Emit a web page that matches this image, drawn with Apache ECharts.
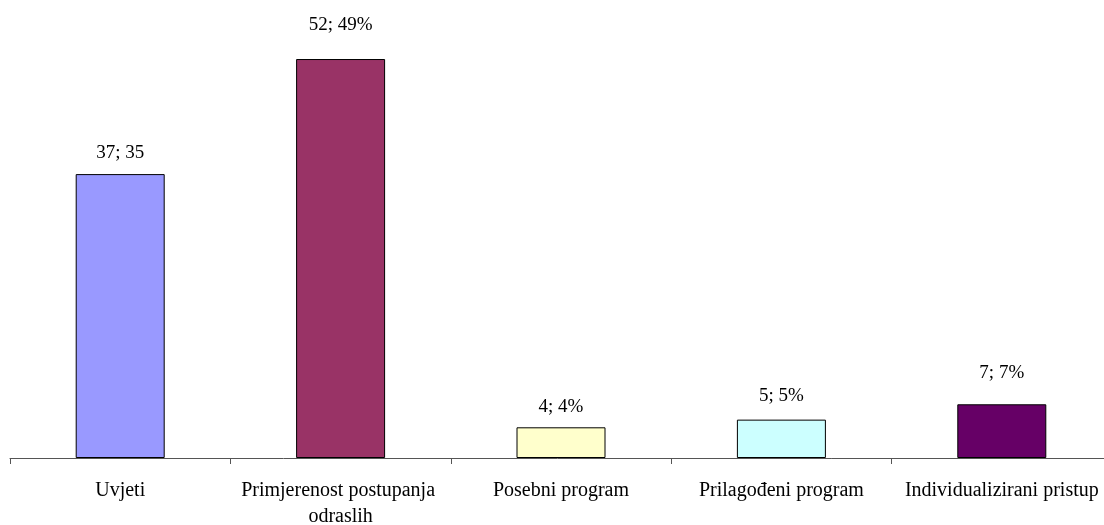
<!DOCTYPE html>
<html><head><meta charset="utf-8">
<script src="https://cdn.jsdelivr.net/npm/echarts@6/dist/echarts.min.js"></script>
<style>html,body{margin:0;padding:0;background:#fff;overflow:hidden}#c{width:1104px;height:525px}</style>
</head><body><div id="c"></div>
<script>
const categories = ["Uvjeti", "Primjerenost postupanja odraslih", "Posebni program", "Prilagođeni program", "Individualizirani pristup"];
const values = [37, 52, 4, 5, 7];
const valueLabels = ["37; 35", "52; 49%", "4; 4%", "5; 5%", "7; 7%"];
const colors = ["#9999FF", "#993366", "#FFFFCC", "#CCFFFF", "#660066"];
const labelGaps = [12, 25, 11, 14, 22];

const chart = echarts.init(document.getElementById('c'));
chart.setOption({
  animation: false,
  grid: { left: 10, width: 1102, top: 36, height: 422, containLabel: false, outerBoundsMode: 'none' },
  xAxis: {
    type: 'category', data: categories,
    axisLine: { lineStyle: { color: '#555', width: 1 } },
    axisTick: { show: true, length: 6, alignWithLabel: false, lineStyle: { color: '#555' } },
    axisLabel: { interval: 0, margin: 20, width: 215, overflow: 'break', lineHeight: 26, hideOverlap: false,
      fontFamily: 'Liberation Serif', fontSize: 20, color: '#000' }
  },
  yAxis: { type: 'value', min: 0, max: 55, show: false, splitLine: { show: false } },
  series: [{
    type: 'bar', barWidth: 89,
    data: values.map((v, i) => ({
      value: v,
      itemStyle: { color: colors[i], borderColor: '#000', borderWidth: 1 },
      label: { show: true, position: 'top', distance: labelGaps[i], formatter: valueLabels[i],
        fontFamily: 'Liberation Serif', fontSize: 19, color: '#000' }
    }))
  }]
});
</script></body></html>
